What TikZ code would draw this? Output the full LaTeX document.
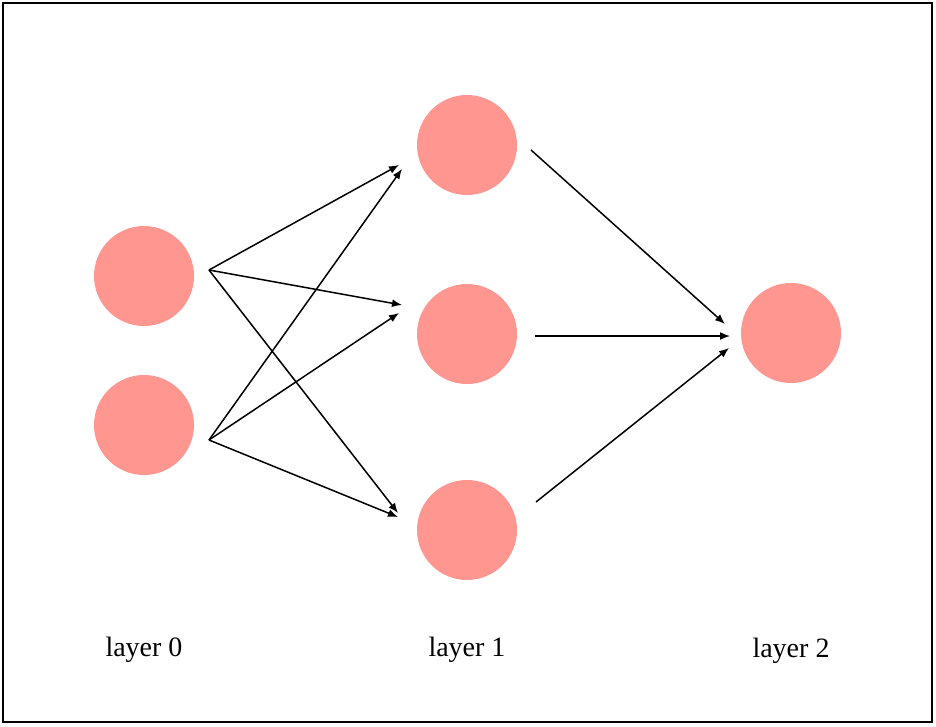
\documentclass[tikz,border=0pt]{standalone}
\usepackage{fontspec}
\setmainfont{Liberation Serif}
\usetikzlibrary{arrows.meta}
\definecolor{neuron}{RGB}{255,150,144}
\begin{document}
\begin{tikzpicture}[x=1pt,y=-1pt,
  neuronnode/.style={circle,fill=neuron,draw=none,minimum size=100pt,inner sep=0pt},
  conn/.style={line width=1.5pt,-{Latex[length=10pt,width=8pt]}},
  lbl/.style={font=\fontsize{28}{32}\selectfont,inner sep=0pt}]
\useasboundingbox (0,0) rectangle (936,726);
\draw[line width=2pt] (3,3) rectangle (932,722);
% neurons
\node[neuronnode] (a1) at (144,276) {};
\node[neuronnode] (a2) at (144,425) {};
\node[neuronnode] (b1) at (467,145) {};
\node[neuronnode] (b2) at (467,334) {};
\node[neuronnode] (b3) at (467,530) {};
\node[neuronnode] (c1) at (791,333) {};
% connector endpoints
\coordinate (s1) at (209,270);
\coordinate (s2) at (209,440);
\coordinate (e11) at (399,165);
\coordinate (e12) at (402,305);
\coordinate (e13) at (398,513);
\coordinate (e21) at (402,169);
\coordinate (e22) at (399,313);
\coordinate (e23) at (398,517);
\coordinate (t1) at (531,150);
\coordinate (t2) at (535,336);
\coordinate (t3) at (536,502);
\coordinate (u1) at (725,324);
\coordinate (u2) at (730,336);
\coordinate (u3) at (729,348);
\draw[conn] (s1) -- (e11);
\draw[conn] (s1) -- (e12);
\draw[conn] (s1) -- (e13);
\draw[conn] (s2) -- (e21);
\draw[conn] (s2) -- (e22);
\draw[conn] (s2) -- (e23);
\draw[conn] (t1) -- (u1);
\draw[conn] (t2) -- (u2);
\draw[conn] (t3) -- (u3);
% labels
\node[lbl] (l0) at (144,650) {layer 0};
\node[lbl] (l1) at (467,650) {layer 1};
\node[lbl] (l2) at (791,651) {layer 2};
\end{tikzpicture}
\end{document}
